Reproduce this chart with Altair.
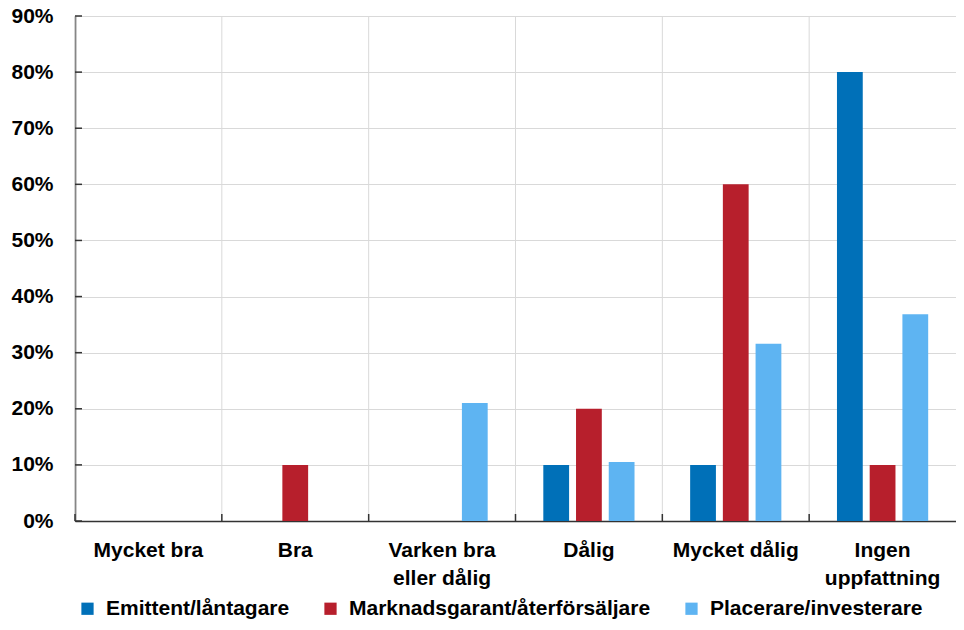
import altair as alt
import pandas as pd

categories = ["Mycket bra", "Bra", "Varken bra\neller dålig", "Dålig", "Mycket dålig", "Ingen\nuppfattning"]
series = ["Emittent/låntagare", "Marknadsgarant/återförsäljare", "Placerare/investerare"]
emittent = [0.0, 0.0, 0.0, 0.10, 0.10, 0.80]
marknad = [0.0, 0.10, 0.0, 0.20, 0.60, 0.10]
placerare = [0.0, 0.0, 0.2105, 0.1053, 0.3158, 0.3684]
colors = ["#0070B8", "#B71F2C", "#5EB4F2"]
y_ticks = [0.0, 0.1, 0.2, 0.3, 0.4, 0.5, 0.6, 0.7, 0.8, 0.9]

W, H = 881, 505
FONT = "Liberation Sans"

rows = []
for s, vals in zip(series, [emittent, marknad, placerare]):
    for c, v in zip(categories, vals):
        rows.append({"kategori": c, "grupp": s, "andel": v})
df = pd.DataFrame(rows)
cat_df = pd.DataFrame({"kategori": categories})
tick_df = pd.DataFrame({"v": y_ticks})

x_scale = alt.Scale(domain=categories, paddingInner=0, paddingOuter=0)
y_scale = alt.Scale(domain=[0, 0.9], nice=False, zero=True)

x_axis = alt.Axis(
    title=None, ticks=False, grid=False, domainColor="#333333", domainWidth=1.5,
    labelExpr="split(datum.label, '\\n')", labelAngle=0, labelPadding=18,
    labelLineHeight=28, labelFontSize=21, labelFont=FONT, labelFontWeight="bold",
    labelColor="#000000", labelLimit=300,
)
y_axis = alt.Axis(
    title=None, ticks=False, values=y_ticks, format="%", grid=True,
    gridColor="#d9d9d9", gridWidth=1, domainColor="#333333", domainWidth=1.5,
    labelPadding=22, labelFontSize=21, labelFont=FONT, labelFontWeight="bold",
    labelColor="#000000",
)

vgrid = alt.Chart(cat_df).mark_rule(color="#d9d9d9", strokeWidth=1).encode(
    x=alt.X("kategori:N", scale=x_scale, sort=categories, bandPosition=0, axis=x_axis),
    y=alt.value(0),
    y2=alt.value(H),
)

xticks = alt.Chart(cat_df).mark_rule(color="#333333", strokeWidth=1.5).encode(
    x=alt.X("kategori:N", scale=x_scale, sort=categories, bandPosition=0, axis=x_axis),
    y=alt.value(H - 7),
    y2=alt.value(H),
)

yticks = alt.Chart(tick_df).mark_rule(color="#333333", strokeWidth=1.5).encode(
    y=alt.Y("v:Q", scale=y_scale, axis=y_axis),
    x=alt.value(0),
    x2=alt.value(7),
)

bars = alt.Chart(df).mark_bar().encode(
    x=alt.X("kategori:N", scale=x_scale, sort=categories, axis=x_axis),
    xOffset=alt.XOffset("grupp:N", sort=series,
                        scale=alt.Scale(domain=series, paddingInner=0.212, paddingOuter=0.85)),
    y=alt.Y("andel:Q", scale=y_scale, axis=y_axis),
    color=alt.Color(
        "grupp:N",
        scale=alt.Scale(domain=series, range=colors),
        legend=alt.Legend(
            title=None, orient="none", legendX=2, legendY=582, direction="horizontal",
            symbolType="square", symbolSize=150, symbolStrokeWidth=0, symbolOpacity=1,
            labelFontSize=21, labelFont=FONT, labelFontWeight="bold", labelColor="#000000",
            labelOffset=8, columnPadding=30, labelLimit=400, padding=0,
        ),
    ),
)

chart = alt.layer(vgrid, bars, xticks, yticks).properties(
    width=W,
    height=H,
    autosize=alt.AutoSizeParams(type="none"),
    padding={"left": 67, "top": 8, "right": 0, "bottom": 101},
).configure_view(stroke=None).configure(background="#ffffff")

chart.save("out.html", embed_options={"renderer": "svg", "actions": False})
